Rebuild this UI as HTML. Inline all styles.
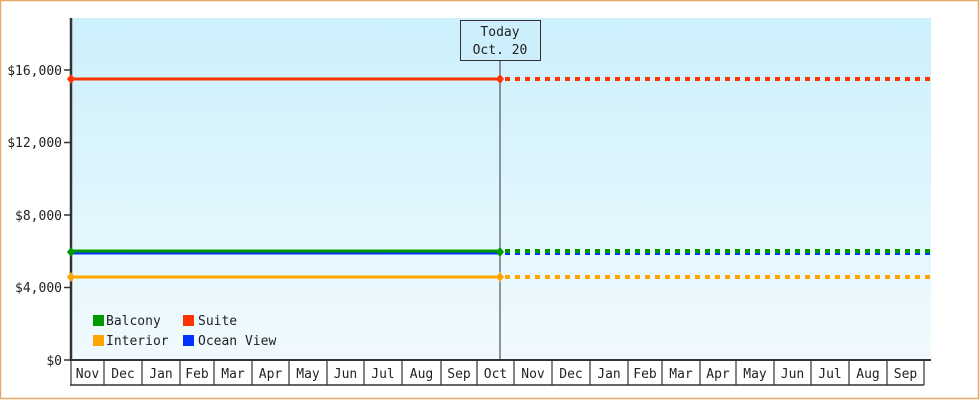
<!DOCTYPE html>
<html><head><style>body{margin:0;background:#fff}svg{display:block}text{font-family:"DejaVu Sans Mono","Liberation Mono",monospace;font-size:13px;fill:#222}</style></head><body>
<svg width="980" height="400" viewBox="0 0 980 400">
<defs><linearGradient id="g" x1="0" y1="0" x2="0" y2="1"><stop offset="0" stop-color="#ccf0fc"/><stop offset="1" stop-color="#f1fafe"/></linearGradient></defs>
<rect x="0.5" y="0.5" width="978" height="398" fill="#fff" stroke="#e8a868" stroke-width="1.5"/>
<rect x="71" y="18" width="860" height="342" fill="url(#g)"/>
<g stroke="#333" stroke-width="1.5">
<line x1="71" y1="18" x2="71" y2="361" stroke-width="2.5"/>
<line x1="70" y1="360" x2="931" y2="360" stroke-width="2"/>
<line x1="70" y1="385" x2="924" y2="385"/>
<line x1="64" y1="360" x2="71" y2="360"/><line x1="64" y1="287.5" x2="71" y2="287.5"/><line x1="64" y1="215" x2="71" y2="215"/><line x1="64" y1="142.5" x2="71" y2="142.5"/><line x1="64" y1="70" x2="71" y2="70"/>
</g>
<g text-anchor="end"><text x="62" y="365">$0</text><text x="62" y="292">$4,000</text><text x="62" y="220">$8,000</text><text x="62" y="147">$12,000</text><text x="62" y="75">$16,000</text></g>
<g stroke="#333" stroke-width="1.2">
<line x1="71" y1="360" x2="71" y2="385"/><line x1="104" y1="360" x2="104" y2="385"/><line x1="142" y1="360" x2="142" y2="385"/><line x1="180" y1="360" x2="180" y2="385"/><line x1="214" y1="360" x2="214" y2="385"/><line x1="252" y1="360" x2="252" y2="385"/><line x1="289" y1="360" x2="289" y2="385"/><line x1="327" y1="360" x2="327" y2="385"/><line x1="364" y1="360" x2="364" y2="385"/><line x1="402" y1="360" x2="402" y2="385"/><line x1="441" y1="360" x2="441" y2="385"/><line x1="477" y1="360" x2="477" y2="385"/><line x1="514" y1="360" x2="514" y2="385"/><line x1="552" y1="360" x2="552" y2="385"/><line x1="590" y1="360" x2="590" y2="385"/><line x1="628" y1="360" x2="628" y2="385"/><line x1="662" y1="360" x2="662" y2="385"/><line x1="700" y1="360" x2="700" y2="385"/><line x1="736" y1="360" x2="736" y2="385"/><line x1="774" y1="360" x2="774" y2="385"/><line x1="811" y1="360" x2="811" y2="385"/><line x1="849" y1="360" x2="849" y2="385"/><line x1="887" y1="360" x2="887" y2="385"/><line x1="924" y1="360" x2="924" y2="385"/>
</g>
<g text-anchor="middle">
<text x="87.5" y="378">Nov</text><text x="123" y="378">Dec</text><text x="161" y="378">Jan</text><text x="197" y="378">Feb</text><text x="233" y="378">Mar</text><text x="270.5" y="378">Apr</text><text x="308" y="378">May</text><text x="345.5" y="378">Jun</text><text x="383" y="378">Jul</text><text x="421.5" y="378">Aug</text><text x="459" y="378">Sep</text><text x="495.5" y="378">Oct</text><text x="533" y="378">Nov</text><text x="571" y="378">Dec</text><text x="609" y="378">Jan</text><text x="645" y="378">Feb</text><text x="681" y="378">Mar</text><text x="718" y="378">Apr</text><text x="755" y="378">May</text><text x="792.5" y="378">Jun</text><text x="830" y="378">Jul</text><text x="868" y="378">Aug</text><text x="905.5" y="378">Sep</text>
</g>
<line x1="500" y1="60" x2="500" y2="360" stroke="#333" stroke-width="1"/>
<rect x="460.5" y="20.5" width="80" height="40" fill="#cdeefb" stroke="#333"/>
<text x="500" y="36" text-anchor="middle">Today</text><text x="500" y="54" text-anchor="middle">Oct. 20</text>
<g stroke-width="4" fill="none">
<line x1="71" y1="79" x2="500" y2="79" stroke="#ff3300" stroke-width="3"/>
<line x1="505" y1="79" x2="931" y2="79" stroke="#ff3300" stroke-dasharray="5 5"/>
<line x1="71" y1="253" x2="500" y2="253" stroke="#0033ff" stroke-width="3"/>
<line x1="505" y1="253" x2="931" y2="253" stroke="#0033ff" stroke-dasharray="5 5"/>
<line x1="71" y1="251" x2="500" y2="251" stroke="#009900" stroke-width="3"/>
<line x1="505" y1="251" x2="931" y2="251" stroke="#009900" stroke-dasharray="5 5"/>
<line x1="71" y1="277" x2="500" y2="277" stroke="#ffa500" stroke-width="3"/>
<line x1="505" y1="277" x2="931" y2="277" stroke="#ffa500" stroke-dasharray="5 5"/>
</g>
<g><path d="M71 74l4 5-4 5-4-5z M500 74l4 5-4 5-4-5z" fill="#ff3300"/>
<path d="M71 247l4 5-4 5-4-5z M500 247l4 5-4 5-4-5z" fill="#009900"/>
<path d="M71 272l4 5-4 5-4-5z M500 272l4 5-4 5-4-5z" fill="#ffa500"/></g>
<rect x="93" y="315" width="11" height="11" fill="#009900"/><text x="106" y="325">Balcony</text>
<rect x="183" y="315" width="11" height="11" fill="#ff3300"/><text x="198" y="325">Suite</text>
<rect x="93" y="335" width="11" height="11" fill="#ffa500"/><text x="106" y="345">Interior</text>
<rect x="183" y="335" width="11" height="11" fill="#0033ff"/><text x="198" y="345">Ocean View</text>
</svg></body></html>
